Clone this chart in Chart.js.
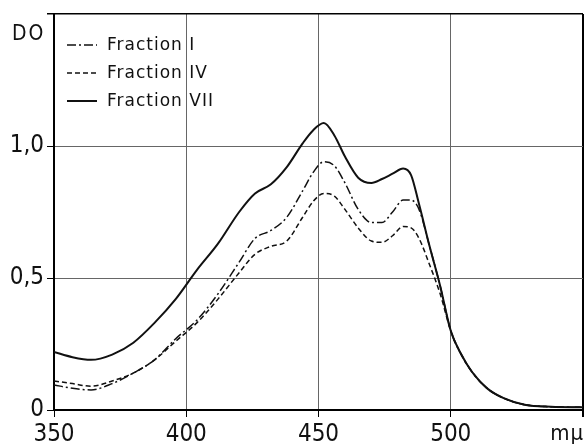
<!DOCTYPE html>
<html>
<head>
<meta charset="utf-8">
<script src="https://cdn.jsdelivr.net/npm/chart.js@4.4.1/dist/chart.umd.min.js"></script>
<style>
  body { margin: 0; background: #fff; }
  canvas { display: block; }
</style>
</head>
<body>
<canvas id="spectrum" width="584" height="445"></canvas>
<script>
// Wellenlängen (mμ) und Extinktion (DO) der drei Fraktionen
const wavelengths = [350, 357, 364, 372, 380, 388, 396, 404, 412, 420, 426, 432, 438, 444, 448, 452, 456, 460, 465, 470, 474, 478, 482, 485, 488, 492, 496, 500, 504, 508, 514, 520, 528, 538, 550];
const fractionI   = [0.095, 0.082, 0.076, 0.10, 0.14, 0.19, 0.27, 0.34, 0.44, 0.56, 0.65, 0.68, 0.73, 0.83, 0.90, 0.94, 0.925, 0.86, 0.76, 0.71, 0.71, 0.75, 0.795, 0.795, 0.76, 0.62, 0.47, 0.30, 0.21, 0.145, 0.08, 0.045, 0.02, 0.012, 0.01];
const fractionIV  = [0.11, 0.10, 0.09, 0.11, 0.14, 0.19, 0.26, 0.33, 0.42, 0.52, 0.59, 0.62, 0.64, 0.73, 0.79, 0.82, 0.81, 0.76, 0.69, 0.64, 0.635, 0.66, 0.695, 0.69, 0.65, 0.55, 0.44, 0.30, 0.21, 0.145, 0.08, 0.045, 0.02, 0.012, 0.01];
const fractionVII = [0.22, 0.20, 0.19, 0.21, 0.255, 0.33, 0.42, 0.53, 0.63, 0.75, 0.82, 0.855, 0.92, 1.01, 1.06, 1.087, 1.04, 0.96, 0.88, 0.86, 0.875, 0.895, 0.915, 0.89, 0.78, 0.62, 0.47, 0.30, 0.21, 0.145, 0.08, 0.045, 0.02, 0.012, 0.01];
const seriesLabels = ['Fraction I', 'Fraction IV', 'Fraction VII'];
const xTicks = [350, 400, 450, 500];
const yTicks = [0, 0.5, 1.0];

const tickFont = "'Liberation Sans Narrow', 'DejaVu Sans Condensed', sans-serif";

const toPoints = vals => wavelengths.map((x, i) => ({ x: x, y: vals[i] }));

// Legende und Achsenbeschriftungen direkt auf die Zeichenfläche
const annotations = {
  id: 'annotations',
  afterDraw(chart) {
    const ctx = chart.ctx;
    ctx.save();
    ctx.fillStyle = '#111';
    ctx.textBaseline = 'alphabetic';
    ctx.font = "21px " + tickFont;
    ctx.letterSpacing = '2px';
    ctx.fillText('DO', 12, 40);
    ctx.font = "22px " + tickFont;
    ctx.letterSpacing = '1px';
    ctx.textAlign = 'right';
    ctx.fillText('mμ', 584, 440);

    ctx.textAlign = 'left';
    ctx.textBaseline = 'middle';
    ctx.font = "17px 'DejaVu Sans', sans-serif";
    ctx.letterSpacing = '1px';
    const rows = [45, 73, 101];
    chart.data.datasets.forEach((ds, i) => {
      const y = rows[i];
      ctx.strokeStyle = '#111';
      ctx.lineWidth = ds.borderWidth;
      ctx.setLineDash(ds.borderDash || []);
      ctx.beginPath();
      ctx.moveTo(67, y);
      ctx.lineTo(97, y);
      ctx.stroke();
      ctx.fillText(ds.label, 107, y + 1);
    });
    ctx.restore();
  }
};

const ctx = document.getElementById('spectrum').getContext('2d');
new Chart(ctx, {
  type: 'line',
  data: {
    datasets: [{
      label: seriesLabels[0],
      data: toPoints(fractionI),
      borderColor: '#111',
      borderWidth: 1.5,
      borderDash: [9, 3, 2, 3]
    },
    {
      label: seriesLabels[1],
      data: toPoints(fractionIV),
      borderColor: '#111',
      borderWidth: 1.5,
      borderDash: [5, 3]
    },
    {
      label: seriesLabels[2],
      data: toPoints(fractionVII),
      borderColor: '#111',
      borderWidth: 2,
      borderDash: []
    }]
  },
  options: {
    responsive: false,
    animation: false,
    layout: { padding: { top: 14, right: 1, left: 0, bottom: 0 } },
    elements: {
      point: { radius: 0 },
      line: { cubicInterpolationMode: 'monotone' }
    },
    plugins: {
      legend: { display: false },
      tooltip: { enabled: false }
    },
    scales: {
      x: {
        type: 'linear',
        min: 350,
        max: 550,
        afterBuildTicks: scale => {
          scale.ticks = xTicks.concat([550]).map(v => ({ value: v }));
        },
        afterFit: scale => {
          scale.height = 35;
          scale.paddingLeft = 0;
          scale.paddingRight = 0;
        },
        border: { color: '#000', width: 2 },
        grid: {
          color: c => c.tick && c.tick.value === 550 ? '#000' : '#666',
          lineWidth: c => c.tick && c.tick.value === 550 ? 2 : 1,
          tickColor: '#000',
          tickLength: 7
        },
        ticks: {
          padding: 3,
          maxRotation: 0,
          color: '#111',
          font: { family: tickFont, size: 24 },
          callback: v => xTicks.includes(v) ? String(v) : ''
        }
      },
      y: {
        min: 0,
        max: 1.5,
        afterBuildTicks: scale => {
          scale.ticks = yTicks.concat([1.5]).map(v => ({ value: v }));
        },
        afterFit: scale => {
          scale.width = 54;
          scale.paddingTop = 0;
          scale.paddingBottom = 0;
        },
        border: { color: '#000', width: 2 },
        grid: {
          color: c => c.tick && c.tick.value === 1.5 ? '#000' : '#666',
          lineWidth: c => c.tick && c.tick.value === 1.5 ? 1.5 : 1,
          tickColor: '#000',
          tickLength: 7
        },
        ticks: {
          padding: 3,
          color: '#111',
          font: { family: tickFont, size: 24 },
          callback: v => {
            if (v === 1.5) return '';
            if (v === 0) return '0';
            return v.toFixed(1).replace('.', ',');
          }
        }
      }
    }
  },
  plugins: [annotations]
});
</script>
</body>
</html>
